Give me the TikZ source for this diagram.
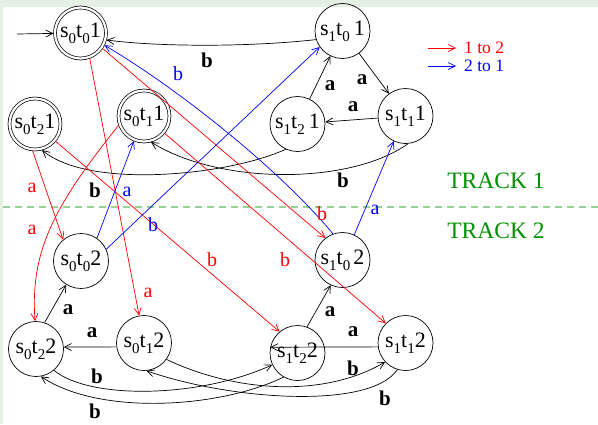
\documentclass[tikz,border=0pt]{standalone}
\usepackage{fontspec}
\setmainfont{Liberation Serif}
\usetikzlibrary{arrows.meta}
\definecolor{bgg}{RGB}{229,240,229}
\definecolor{trk}{RGB}{0,145,0}
\definecolor{dsh}{RGB}{150,210,150}
\definecolor{rd}{RGB}{255,0,0}
\definecolor{bl}{RGB}{0,0,255}
\newcommand\lsub[1]{\raisebox{-0.26em}{\fontsize{15}{15}\selectfont #1}}
\newcommand\stlab[3]{s\lsub{#1}t\lsub{#2}#3}
\begin{document}
\begin{tikzpicture}[x=1pt,y=-1pt,
  state/.style={circle,draw,line width=0.7pt,minimum size=55pt,inner sep=0pt,font=\fontsize{22}{22}\selectfont},
  acc/.style={state,double,double distance=2.2pt,minimum size=51pt,outer sep=1.5pt},
  arr/.style={-{Straight Barb[length=7pt,width=7pt]},line width=0.7pt},
  lbl/.style={inner sep=0pt,font=\bfseries\fontsize{21}{21}\selectfont},
  rlbl/.style={inner sep=0pt,text=rd,font=\fontsize{20}{20}\selectfont},
  blbl/.style={inner sep=0pt,text=bl,font=\fontsize{20}{20}\selectfont},
  lgd/.style={anchor=west,inner sep=0pt,font=\fontsize{17.5}{17.5}\selectfont},
  trklab/.style={text=trk,inner sep=0pt,font=\fontsize{23.5}{23.5}\selectfont}
]
\useasboundingbox (0,0) rectangle (598,424);
\fill[bgg] (0,0) rectangle (598,424);
\fill[white] (3,7) rectangle (598,424);

% states
\node[acc]   (A) at (80.5,33)  {\stlab{0}{0}{1}};
\node[state] (B) at (342.5,31) {\stlab{1}{0}{\hspace{4pt}1}};
\node[acc]   (C) at (35,124)   {\stlab{0}{2}{1}};
\node[acc]   (D) at (144,116)  {\stlab{0}{1}{1}};
\node[state] (E) at (297.5,124){\stlab{1}{2}{\hspace{4pt}1}};
\node[state] (F) at (405.5,116){\stlab{1}{1}{1}};
\node[state] (G) at (81,261)   {\stlab{0}{0}{2}};
\node[state] (H) at (342.5,260){\stlab{1}{0}{\hspace{3pt}2}};
\node[state] (I) at (36,349)   {\stlab{0}{2}{2}};
\node[state] (J) at (144,343)  {\stlab{0}{1}{2}};
\node[state] (K) at (297.5,353){\stlab{1}{2}{2}};
\node[state] (L) at (405.5,343){\stlab{1}{1}{2}};

% track separator
\draw[dsh,line width=1.2pt,dash pattern=on 7pt off 5pt] (3,207) -- (598,207);
\node[trklab] (t1) at (496,181) {TRACK 1};
\node[trklab] (t2) at (496,231) {TRACK 2};

% legend
\coordinate (r1) at (428,48); \coordinate (r2) at (456,48);
\coordinate (b1) at (428,66); \coordinate (b2) at (456,66);
\draw[arr,rd] (r1) -- (r2);
\draw[arr,bl] (b1) -- (b2);
\node[lgd,text=rd] (lg1) at (464,48) {1 to 2};
\node[lgd,text=bl] (lg2) at (464,66) {2 to 1};

% track 1 black
\coordinate (start) at (17,34);
\draw[arr] (start) -- (A);
\draw[arr] (B.198) .. controls (250,47) and (160,47) .. (A.-15);
\draw[arr] (B) -- (F);
\draw[arr] (F) -- (E);
\draw[arr] (E) -- (B);
\draw[arr] (F.-85) .. controls (350,185) and (220,185) .. (D.-75);
\draw[arr] (E.-115) .. controls (230,175) and (90,190) .. (C.-75);

% red 1 to 2
\draw[arr,rd] (C.-95) -- (G.130);
\draw[arr,rd] (D.200) .. controls (55,205) and (30,250) .. (I.92);
\draw[arr,rd] (A.-70) -- (J.100);
\draw[arr,rd] (C.-40) -- (K.130);
\draw[arr,rd] (D.-40) -- (L.135);
\draw[arr,rd] (A.-35) -- (H.128);

% blue 2 to 1
\draw[arr,bl] (H.110) .. controls (280,170) and (180,90) .. (A.-27);
\draw[arr,bl] (G.55) -- (D.-112);
\draw[arr,bl] (G.25) -- (B.-145);
\draw[arr,bl] (H.65) -- (F.-115);

% track 2 black
\draw[arr] (I.72) -- (G.-122);
\draw[arr] (J.188) -- (I.4);
\draw[arr] (K.70) -- (H.-115);
\draw[arr] (L.188) -- (K.168);
\draw[arr] (I.-50) .. controls (90,400) and (200,398) .. (K.-155);
\draw[arr] (K.-120) .. controls (220,408) and (100,416) .. (I.-80);
\draw[arr] (J.-36) .. controls (230,390) and (320,400) .. (L.-137);
\draw[arr] (L.-107) .. controls (370,410) and (230,400) .. (J.-85);

% labels black
\node[lbl] (lBA) at (207,60) {b};
\node[lbl] (lBF) at (362,80) {a};
\node[lbl] (lEB) at (330,86) {a};
\node[lbl] (lFE) at (353,107) {a};
\node[lbl] (lEC) at (95,190) {b};
\node[lbl] (lFD) at (343,180) {b};
\node[lbl] (lIG) at (68,310) {a};
\node[lbl] (lJI) at (92,333) {a};
\node[lbl] (lKH) at (330,312) {a};
\node[lbl] (lLK) at (353,332) {a};
\node[lbl] (lIK) at (97,376) {b};
\node[lbl] (lKI) at (95,411) {b};
\node[lbl] (lJL) at (353,368) {b};
\node[lbl] (lLJ) at (385,398) {b};
% labels red
\node[rlbl] (lCG) at (32,188) {a};
\node[rlbl] (lDI) at (32,230) {a};
\node[rlbl] (lAJ) at (148,293) {a};
\node[rlbl] (lCK) at (212,260) {b};
\node[rlbl] (lDL) at (285,260) {b};
\node[rlbl] (lAH) at (322,214) {b};
% labels blue
\node[blbl] (lHA) at (178,74) {b};
\node[blbl] (lGD) at (127,192) {a};
\node[blbl] (lGB) at (153,225) {b};
\node[blbl] (lHF) at (375,210) {a};
\end{tikzpicture}
\end{document}
